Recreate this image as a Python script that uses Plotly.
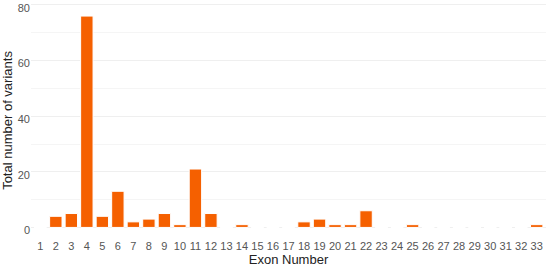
import plotly.graph_objects as go

# exon numbers and variant counts
exons = [str(i) for i in range(1, 34)]
variants = [0, 4, 5, 76, 4, 13, 2, 3, 5, 1,
            21, 5, 0, 1, 0, 0, 0, 2, 3, 1,
            1, 6, 0, 0, 1, 0, 0, 0, 0, 0,
            0, 0, 1]
y_ticks = [0, 20, 40, 60, 80]

fig = go.Figure(go.Bar(
    x=exons, y=variants,
    marker=dict(color="#F56000", line=dict(color="white", width=1)),
    width=0.8,
))

fig.update_layout(
    width=550, height=269,
    margin=dict(l=31, r=4, t=3, b=31, autoexpand=False),
    plot_bgcolor="white", paper_bgcolor="white",
    font=dict(family="Liberation Sans, Arial", size=11, color="#555555"),
    showlegend=False,
    bargap=0.2,
)
fig.update_xaxes(
    type="category", range=[-0.6, 32.6], automargin=False,
    showgrid=False, zeroline=False, showline=False,
    ticks="", ticklen=0, tickfont=dict(size=11, color="#555555"),
    title=dict(text="Exon Number", font=dict(size=13, color="#222222"), standoff=2),
)
fig.update_yaxes(
    range=[-3.8, 80.7], automargin=False, ticklabeloverflow="allow",
    tickvals=y_ticks, ticks="", ticklabelshift=3,
    showgrid=True, gridcolor="#EFEFEF", gridwidth=1,
    minor=dict(dtick=10, showgrid=True, gridcolor="#F5F5F5", gridwidth=1),
    zeroline=False, showline=False,
    tickfont=dict(size=11, color="#555555"),
    title=dict(text="Total number of variants", font=dict(size=13, color="#222222"), standoff=4),
)

# page body has a default 8px margin; drop it so the figure sits at the corner
fig.write_html("out.html", config={"displayModeBar": False},
               post_script="document.body.style.margin='0';")
